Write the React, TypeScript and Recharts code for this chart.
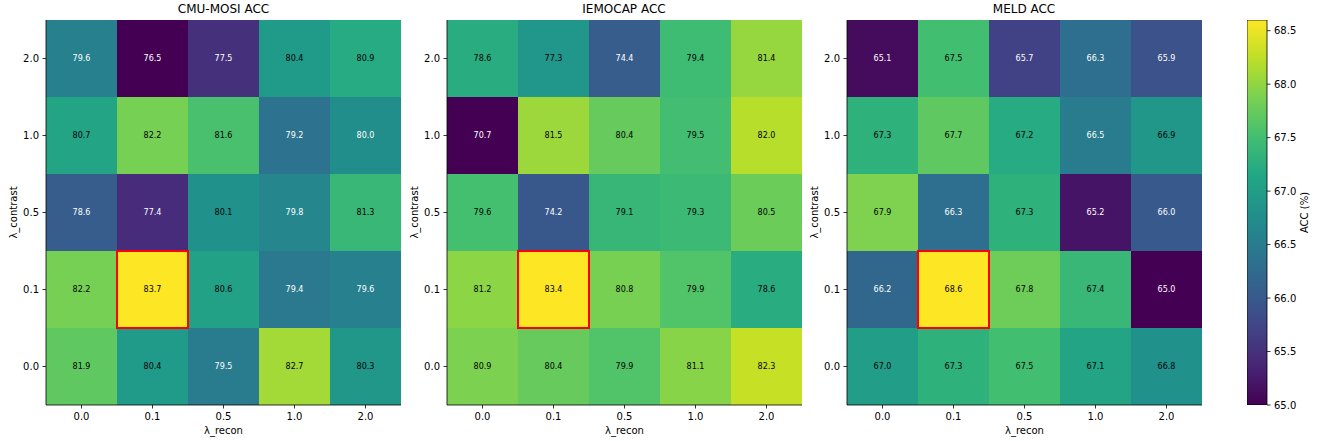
import React from 'react';
import { BarChart, Bar, XAxis, YAxis, Cell, LabelList, Label } from 'recharts';

// grid axes
const lambdaRecon = ['0.0', '0.1', '0.5', '1.0', '2.0'];
const lambdaContrast = ['0.0', '0.1', '0.5', '1.0', '2.0'];

// accuracy grids: row index = λ_contrast (0.0 first), column index = λ_recon
const mosiAcc = [
  [81.9, 80.4, 79.5, 82.7, 80.3],
  [82.2, 83.7, 80.6, 79.4, 79.6],
  [78.6, 77.4, 80.1, 79.8, 81.3],
  [80.7, 82.2, 81.6, 79.2, 80.0],
  [79.6, 76.5, 77.5, 80.4, 80.9],
];
const iemocapAcc = [
  [80.9, 80.4, 79.9, 81.1, 82.3],
  [81.2, 83.4, 80.8, 79.9, 78.6],
  [79.6, 74.2, 79.1, 79.3, 80.5],
  [70.7, 81.5, 80.4, 79.5, 82.0],
  [78.6, 77.3, 74.4, 79.4, 81.4],
];
const meldAcc = [
  [67.0, 67.3, 67.5, 67.1, 66.8],
  [66.2, 68.6, 67.8, 67.4, 65.0],
  [67.9, 66.3, 67.3, 65.2, 66.0],
  [67.3, 67.7, 67.2, 66.5, 66.9],
  [65.1, 67.5, 65.7, 66.3, 65.9],
];
const colorbarTicks = [65.0, 65.5, 66.0, 66.5, 67.0, 67.5, 68.0, 68.5];

const FONT = '"DejaVu Sans", sans-serif';

const VIRIDIS = [
  '#440154', '#482475', '#414487', '#355f8d', '#2a788e', '#21918c',
  '#22a884', '#44bf70', '#7ad151', '#bddf26', '#fde725',
];

function hexToRgb(h: string) {
  return [parseInt(h.slice(1, 3), 16), parseInt(h.slice(3, 5), 16), parseInt(h.slice(5, 7), 16)];
}

function viridis(t: number) {
  const c = Math.max(0, Math.min(1, t)) * (VIRIDIS.length - 1);
  const i = Math.min(Math.floor(c), VIRIDIS.length - 2);
  const f = c - i;
  const a = hexToRgb(VIRIDIS[i]);
  const b = hexToRgb(VIRIDIS[i + 1]);
  const m = a.map((v, k) => Math.round(v + (b[k] - v) * f));
  return `rgb(${m[0]},${m[1]},${m[2]})`;
}

// plot box geometry (pixels)
const PLOT_W = 355;
const PLOT_H = 385;
const TOP = 20;
const Y_AXIS_W = 46;
const X_AXIS_H = 36;
const CHART_H = TOP + PLOT_H + X_AXIS_H;

const tickStyle = { fill: '#000', fontSize: 10, fontFamily: FONT };
const spine = { stroke: '#000', strokeWidth: 0.8 };

function Heatmap({ title, matrix, left }: { title: string; matrix: number[][]; left: number }) {
  const flat = matrix.flat();
  const lo = Math.min(...flat);
  const hi = Math.max(...flat);
  const mid = (lo + hi) / 2;

  let best = { r: 0, c: 0 };
  matrix.forEach((row, r) => row.forEach((v, c) => {
    if (v > matrix[best.r][best.c]) best = { r, c };
  }));

  const rows = lambdaRecon.map((recon, ci) => {
    const o: Record<string, number | string> = { recon };
    lambdaContrast.forEach((_, ri) => {
      o[`u${ri}`] = 1;
      o[`v${ri}`] = matrix[ri][ci];
    });
    return o;
  });

  // value text in each cell; the best cell also gets its red outline here
  const makeCellText = (ri: number) => (props: any) => {
    const { x, y, width, height, value, index } = props;
    const X = Number(x);
    const Y = Number(y);
    const W = Number(width);
    const H = Number(height);
    const isBest = ri === best.r && index === best.c;
    return (
      <g>
        <text
          x={X + W / 2}
          y={Y + H / 2}
          textAnchor="middle"
          dominantBaseline="central"
          fontSize={8}
          fontFamily={FONT}
          fill={value < mid ? '#fff' : '#000'}
        >
          {Number(value).toFixed(1)}
        </text>
        {isBest && (
          <rect x={X} y={Y} width={W} height={H} fill="none" stroke="#ff0000" strokeWidth={2} />
        )}
      </g>
    );
  };

  const yLabel = (props: any) => {
    const vb = props.viewBox || {};
    const cx = 13;
    const cy = (vb.y ?? TOP) + (vb.height ?? PLOT_H) / 2;
    return (
      <text
        x={cx}
        y={cy}
        transform={`rotate(-90, ${cx}, ${cy})`}
        textAnchor="middle"
        dominantBaseline="central"
        fontSize={10}
        fontFamily={FONT}
        fill="#000"
      >
        λ_contrast
      </text>
    );
  };

  return (
    <div style={{ position: 'absolute', left, top: 0, width: Y_AXIS_W + PLOT_W, height: CHART_H }}>
      <div
        style={{
          position: 'absolute', left: Y_AXIS_W, width: PLOT_W, top: 2, textAlign: 'center',
          fontFamily: FONT, fontSize: 12, lineHeight: '14px', color: '#000', fontWeight: 'normal',
        }}
      >
        {title}
      </div>
      <BarChart
        width={Y_AXIS_W + PLOT_W}
        height={CHART_H}
        data={rows}
        margin={{ top: TOP, right: 0, bottom: 0, left: 0 }}
        barCategoryGap={0}
        barGap={0}
      >
        <XAxis
          dataKey="recon"
          height={X_AXIS_H}
          tickSize={3.5}
          tickMargin={4}
          axisLine={spine}
          tickLine={spine}
          tick={tickStyle}
          interval={0}
        >
          <Label value="λ_recon" position="insideBottom" offset={7.5} fontSize={10} fontFamily={FONT} fill="#000" />
        </XAxis>
        <XAxis
          xAxisId="top"
          orientation="top"
          dataKey="recon"
          height={0}
          tick={false}
          tickLine={false}
          axisLine={spine}
        />
        <YAxis
          type="number"
          domain={[0, lambdaContrast.length]}
          ticks={lambdaContrast.map((_, i) => i + 0.5)}
          tickFormatter={(v: number) => lambdaContrast[Math.floor(v)]}
          width={Y_AXIS_W}
          tickSize={3.5}
          tickMargin={3.5}
          axisLine={spine}
          tickLine={spine}
          tick={tickStyle}
          allowDataOverflow
        >
          <Label content={yLabel} />
        </YAxis>
        <YAxis
          yAxisId="right"
          orientation="right"
          width={0}
          tick={false}
          tickLine={false}
          axisLine={spine}
        />
        {lambdaContrast.map((_, ri) => (
          <Bar key={ri} dataKey={`u${ri}`} stackId="grid" isAnimationActive={false}>
            {rows.map((_r, ci) => (
              <Cell key={ci} fill={viridis((matrix[ri][ci] - lo) / (hi - lo))} />
            ))}
            <LabelList dataKey={`v${ri}`} content={makeCellText(ri)} />
          </Bar>
        ))}
      </BarChart>
    </div>
  );
}

function Colorbar({ matrix, left }: { matrix: number[][]; left: number }) {
  const flat = matrix.flat();
  const lo = Math.min(...flat);
  const hi = Math.max(...flat);
  const BAR_W = 20;
  const AXIS_W = 71;
  const data = [{ name: 'acc', span: [lo, hi] }];

  const cbLabel = (props: any) => {
    const vb = props.viewBox || {};
    const cx = 1304 - left;
    const cy = (vb.y ?? TOP) + (vb.height ?? PLOT_H) / 2;
    return (
      <text
        x={cx}
        y={cy}
        transform={`rotate(-90, ${cx}, ${cy})`}
        textAnchor="middle"
        dominantBaseline="central"
        fontSize={10}
        fontFamily={FONT}
        fill="#000"
      >
        ACC (%)
      </text>
    );
  };

  return (
    <div style={{ position: 'absolute', left, top: 0 }}>
      <BarChart
        width={BAR_W + AXIS_W}
        height={CHART_H}
        data={data}
        margin={{ top: TOP, right: 0, bottom: X_AXIS_H, left: 0 }}
        barCategoryGap={0}
      >
        <defs>
          <linearGradient id="viridisGrad" x1="0" y1="1" x2="0" y2="0">
            {VIRIDIS.map((c, i) => (
              <stop key={i} offset={`${(i / (VIRIDIS.length - 1)) * 100}%`} stopColor={c} />
            ))}
          </linearGradient>
        </defs>
        <XAxis dataKey="name" hide />
        <YAxis
          orientation="right"
          type="number"
          domain={[lo, hi]}
          ticks={colorbarTicks}
          tickFormatter={(v: number) => v.toFixed(1)}
          width={AXIS_W}
          tickSize={3.5}
          tickMargin={3.5}
          axisLine={false}
          tickLine={spine}
          tick={tickStyle}
          allowDataOverflow
        >
          <Label content={cbLabel} />
        </YAxis>
        <Bar dataKey="span" fill="url(#viridisGrad)" stroke="#000" strokeWidth={0.8} isAnimationActive={false} />
      </BarChart>
    </div>
  );
}

export default function App() {
  return (
    <div style={{ position: 'absolute', left: 0, top: 0, width: 1318, height: 441, background: '#fff', overflow: 'hidden' }}>
      <Heatmap title="CMU-MOSI ACC" matrix={mosiAcc} left={0} />
      <Heatmap title="IEMOCAP ACC" matrix={iemocapAcc} left={400.5} />
      <Heatmap title="MELD ACC" matrix={meldAcc} left={800.5} />
      <Colorbar matrix={meldAcc} left={1247} />
    </div>
  );
}
